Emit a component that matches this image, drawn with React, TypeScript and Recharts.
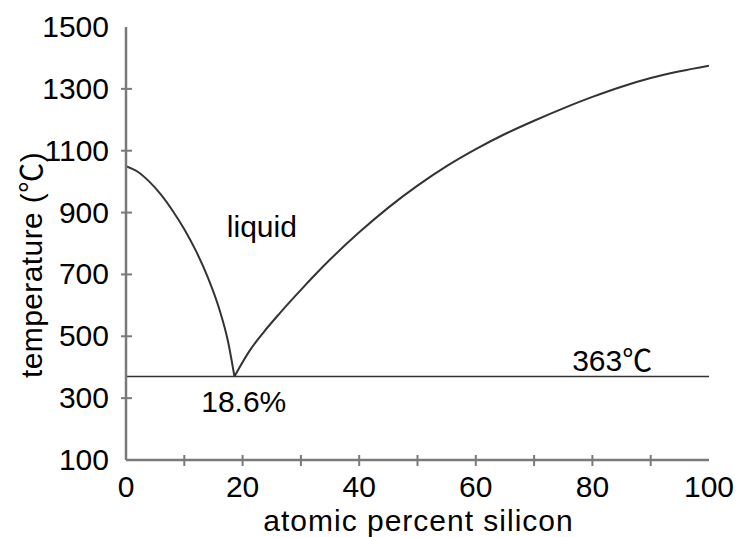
import React from 'react';
import { LineChart, Line, XAxis, YAxis, ReferenceLine, ReferenceDot } from 'recharts';

const leftPct = [0, 2, 4, 6, 8, 10, 12, 14, 16, 17.5, 18.6];
const leftTemp = [1050, 1032, 1000, 958, 906, 846, 776, 692, 588, 483, 370];
const rightPct = [18.6, 21.3, 23.6, 26.4, 30, 35, 40, 45, 50, 55, 60, 65, 70, 75, 80, 85, 90, 95, 100];
const rightTemp = [370, 456, 513, 575, 650, 748, 836, 916, 987, 1050, 1105, 1154, 1197, 1237, 1274, 1307, 1335, 1357, 1375];
const eutecticTemp = 370;
const xTicks = [0, 10, 20, 30, 40, 50, 60, 70, 80, 90, 100];
const yTicks = [100, 300, 500, 700, 900, 1100, 1300, 1500];
const xLabeled = [0, 20, 40, 60, 80, 100];
const annotations = [
  { x: 23.3, y: 857, text: 'liquid' },
  { x: 20.2, y: 291, text: '18.6%' },
  { x: 83.4, y: 423, text: '363\u2103' },
];

const leftData = leftPct.map((x, i) => ({ x, t: leftTemp[i] }));
const rightData = rightPct.map((x, i) => ({ x, t: rightTemp[i] }));

const FONT = '"Liberation Sans", Arial, "Noto Sans CJK SC", sans-serif';
const AXIS = '#7a7a7a';
const FS = 30;

const XTick = (props: any) => {
  const { x, y, payload } = props;
  const v = payload.value;
  const edge = v === 0 || v === 100;
  return (
    <g>
      {!edge && <line x1={x} x2={x} y1={y - 5} y2={y + 6} stroke={AXIS} strokeWidth={2} />}
      {xLabeled.includes(v) && (
        <text x={x} y={y + 37} textAnchor="middle" fontSize={FS} fontFamily={FONT} fill="#000">{v}</text>
      )}
    </g>
  );
};

const YTick = (props: any) => {
  const { x, y, payload } = props;
  const v = payload.value;
  const edge = v === 100 || v === 1500;
  return (
    <g>
      {!edge && <line x1={x - 5} x2={x + 6} y1={y} y2={y} stroke={AXIS} strokeWidth={2} />}
      <text x={x - 17} y={y + 10} textAnchor="end" fontSize={FS} fontFamily={FONT} fill="#000">{v}</text>
    </g>
  );
};

export default function App() {
  return (
    <div style={{ position: 'absolute', left: 0, top: 0, background: '#fff' }}>
      <LineChart width={737} height={537} margin={{ top: 27, right: 28, bottom: 0, left: 0 }}>
        <XAxis
          dataKey="x"
          type="number"
          domain={[0, 100]}
          ticks={xTicks}
          interval={0}
          tickSize={0}
          tickMargin={0}
          tickLine={false}
          tick={<XTick />}
          axisLine={{ stroke: AXIS, strokeWidth: 2.5 }}
          height={77}
          allowDataOverflow
          label={{
            content: (p: any) => {
              const vb = p.viewBox;
              return (
                <text x={vb.x + vb.width / 2 + 1} y={vb.y + 71} textAnchor="middle" fontSize={FS} letterSpacing={1} fontFamily={FONT} fill="#000">
                  atomic percent silicon
                </text>
              );
            },
          }}
        />
        <XAxis xAxisId="top" orientation="top" dataKey="x" type="number" domain={[0, 100]} tick={false} tickLine={false} height={0} axisLine={{ stroke: AXIS, strokeWidth: 2.5 }} />
        <YAxis
          type="number"
          domain={[100, 1500]}
          ticks={yTicks}
          interval={0}
          tickSize={0}
          tickMargin={0}
          tickLine={false}
          tick={<YTick />}
          width={126}
          axisLine={{ stroke: AXIS, strokeWidth: 2.5 }}
          label={{
            content: (p: any) => {
              const vb = p.viewBox;
              const cx = vb.x + 31;
              const cy = 265;
              return (
                <text x={cx} y={cy} textAnchor="middle" dominantBaseline="central" fontSize={FS} letterSpacing={0.4} fontFamily={FONT} fill="#000" transform={`rotate(-90, ${cx}, ${cy})`}>
                  {'temperature (\u2103)'}
                </text>
              );
            },
          }}
        />
        <YAxis yAxisId="right" orientation="right" type="number" domain={[100, 1500]} tick={false} tickLine={false} width={0} axisLine={{ stroke: AXIS, strokeWidth: 2.5 }} />
        <ReferenceLine y={eutecticTemp} stroke="#333" strokeWidth={1.6} />
        <Line data={leftData} type="monotone" dataKey="t" stroke="#333" strokeWidth={2} dot={false} isAnimationActive={false} />
        <Line data={rightData} type="monotone" dataKey="t" stroke="#333" strokeWidth={2} dot={false} isAnimationActive={false} />
        {annotations.map((a) => (
          <ReferenceDot key={a.text} x={a.x} y={a.y} r={0} fill="none" stroke="none"
            label={{ value: a.text, position: 'center', fontSize: FS, fontFamily: FONT, fill: '#000' }} />
        ))}
      </LineChart>
    </div>
  );
}
